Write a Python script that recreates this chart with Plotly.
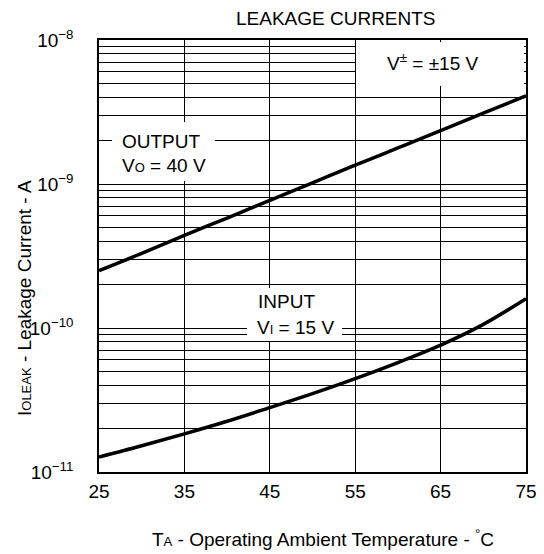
import plotly.graph_objects as go

# Data
temp = [25, 30, 35, 40, 45, 50, 55, 60, 65, 70, 75]
output_leak = [2.5e-10, 3.3e-10, 4.4e-10, 5.8e-10, 7.7e-10, 1.02e-9, 1.35e-9, 1.78e-9, 2.35e-9, 3.1e-9, 4.1e-9]
input_leak = [1.27e-11, 1.52e-11, 1.84e-11, 2.25e-11, 2.8e-11, 3.5e-11, 4.45e-11, 5.75e-11, 7.6e-11, 1.06e-10, 1.6e-10]

x_ticks = [25, 35, 45, 55, 65, 75]
y_ticks = [1e-11, 1e-10, 1e-9, 1e-8]
y_tick_text = ["10<sup>−11</sup>", "10<sup>−10</sup>", "10<sup>−9</sup>", "10<sup>−8</sup>"]

FONT = "Liberation Sans, Arial, Helvetica, sans-serif"
OFF = 8  # page body margin

fig = go.Figure()
for ys in (output_leak, input_leak):
    fig.add_trace(go.Scatter(x=temp, y=ys, mode="lines",
                             line=dict(color="black", width=3.5, shape="spline"),
                             showlegend=False, hoverinfo="skip"))

# plot area in window pixels
WL, WR, WT, WB = 99, 526, 40, 472
L, R, T, B = WL - OFF, WR - OFF, WT - OFF, WB - OFF
W, H = R - L, B - T

def px(xw):
    return (xw - OFF - L) / W

def py(yw):
    return (B - (yw - OFF)) / H

# white boxes behind the labels (window pixel coords)
boxes = [
    (112, 215, 122, 181),   # OUTPUT
    (247, 342, 288, 341),   # INPUT
    (356, 524, 42, 86),     # V+-
]
for x0, x1, y0, y1 in boxes:
    fig.add_annotation(text=" ", xref="paper", yref="paper", x=px(x0), y=py(y0),
                       xanchor="left", yanchor="top", width=x1 - x0, height=y1 - y0,
                       bgcolor="white", borderpad=0, borderwidth=0, showarrow=False,
                       font=dict(size=2))

ann_font = dict(family=FONT, size=19, color="black")
sm = "<span style='font-size:13px'>{}</span>"
annots = [
    ("OUTPUT", 120, 141, "left"),
    ("V" + sm.format("O") + " = 40 V", 120, 165, "left"),
    ("INPUT", 256, 301, "left"),
    ("V" + sm.format("I") + " = 15 V", 255, 327, "left"),
    ("V<sup>±</sup> = ±15 V", 432, 62, "center"),
]
for text, xw, yw, anc in annots:
    fig.add_annotation(text=text, xref="paper", yref="paper", x=px(xw), y=py(yw),
                       xanchor=anc, yanchor="middle", showarrow=False, font=ann_font)

# titles
fig.add_annotation(text="LEAKAGE CURRENTS", xref="paper", yref="paper",
                   x=px(336), y=py(19), xanchor="center", yanchor="middle",
                   showarrow=False, font=ann_font)
fig.add_annotation(text="T" + sm.format("A") + " - Operating Ambient Temperature - <sup>°</sup>C",
                   xref="paper", yref="paper", x=px(323), y=py(538),
                   xanchor="center", yanchor="middle", showarrow=False, font=ann_font)
fig.add_annotation(text="I" + sm.format("OLEAK") + " - Leakage Current - A",
                   xref="paper", yref="paper", x=px(24), y=py(298),
                   xanchor="center", yanchor="middle", textangle=-90,
                   showarrow=False, font=ann_font)

fig.update_xaxes(range=[25, 75], tickvals=x_ticks, ticktext=[str(v) for v in x_ticks],
                 showgrid=True, gridcolor="black", gridwidth=1,
                 showline=True, linecolor="black", linewidth=1.5, mirror=True,
                 ticks="outside", ticklen=1, tickcolor="white",
                 tickfont=dict(family=FONT, size=19, color="black"), zeroline=False)
fig.update_yaxes(type="log", range=[-11, -8], tickvals=y_ticks, ticktext=y_tick_text,
                 showgrid=True, gridcolor="black", gridwidth=1,
                 minor=dict(dtick="D1", showgrid=True, gridcolor="black", gridwidth=1,
                            ticks=""),
                 showline=True, linecolor="black", linewidth=1.5, mirror=True,
                 ticks="outside", ticklen=20, tickcolor="white",
                 tickfont=dict(family=FONT, size=19, color="black"), zeroline=False)

fig.update_layout(width=544, height=554, margin=dict(l=L, r=544 - R, t=T, b=554 - B),
                  plot_bgcolor="white", paper_bgcolor="white",
                  font=dict(family=FONT, color="black"))

fig.write_html("out.html")
